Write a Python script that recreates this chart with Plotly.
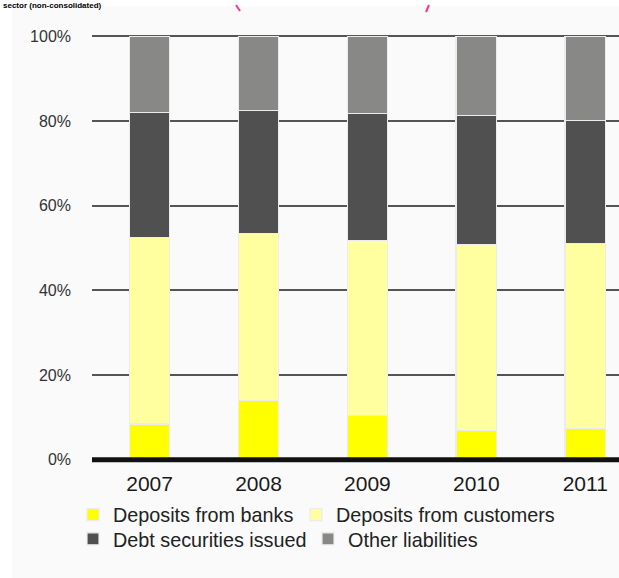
import plotly.graph_objects as go

years = ["2007", "2008", "2009", "2010", "2011"]
banks = [8.4, 14.0, 10.4, 6.9, 7.4]
customers = [44.0, 39.4, 41.3, 43.9, 43.7]
debt = [29.6, 29.0, 30.0, 30.5, 29.0]
other = [18.0, 17.6, 18.3, 18.7, 19.9]
ytick_vals = [0, 20, 40, 60, 80, 100]
ytick_text = ["0%", "20%", "40%", "60%", "80%", "100%"]

series = [
    ("Deposits from banks", banks, "#ffff00", "legend", 178),
    ("Deposits from customers", customers, "#ffffa0", "legend", None),
    ("Debt securities issued", debt, "#505050", "legend2", 190),
    ("Other liabilities", other, "#888886", "legend2", None),
]

W, H = 619, 578
L, R, T, B = 92, 0, 30, 112
pw, ph = W - L - R, H - T - B

def px_x(x):
    return (x - L) / pw

def px_y(y):
    return 1 - (y - T) / ph

fig = go.Figure()
for name, vals, color, lg, lw in series:
    kw = {}
    if lw:
        kw["legendwidth"] = lw
    fig.add_trace(go.Bar(
        x=years, y=vals, name=name, width=0.372,
        marker=dict(color=color, line=dict(color="#ececec", width=1.2)),
        legend=lg, **kw,
    ))

fig.update_layout(
    width=W, height=H,
    margin=dict(l=L, r=R, t=T, b=B),
    barmode="stack",
    paper_bgcolor="white",
    plot_bgcolor="rgba(0,0,0,0)",
    font=dict(family="Liberation Sans, Arial, sans-serif", color="#222"),
    xaxis=dict(
        type="category", range=[-0.529, 4.31],
        showgrid=False, zeroline=False, showline=False,
        tickfont=dict(size=21, color="#1a1a1a"),
        ticks="", ticklabelstandoff=3,
    ),
    yaxis=dict(
        range=[-1.5, 101.5], tickvals=ytick_vals, ticktext=ytick_text,
        showgrid=True, gridcolor="#555555", gridwidth=2,
        zeroline=False, showline=False,
        tickfont=dict(size=16, color="#333"),
        ticks="", ticklabelstandoff=20,
    ),
    legend=dict(
        orientation="h", xref="container", yref="container",
        x=73 / W, y=1 - 514.8 / H, xanchor="left", yanchor="middle",
        font=dict(size=19.8, color="#222"), traceorder="normal",
        bgcolor="rgba(0,0,0,0)",
    ),
    legend2=dict(
        orientation="h", xref="container", yref="container",
        x=73 / W, y=1 - 539 / H, xanchor="left", yanchor="middle",
        font=dict(size=19.8, color="#222"), traceorder="normal",
        bgcolor="rgba(0,0,0,0)",
    ),
    showlegend=True,
)

shapes = [
    # light panel background
    dict(type="rect", xref="paper", yref="paper", x0=px_x(12), x1=1.0,
         y0=px_y(H), y1=px_y(6), fillcolor="#fafafa", line=dict(width=0), layer="below"),
    # thick baseline
    dict(type="line", xref="paper", yref="y", x0=0, x1=1, y0=0, y1=0,
         line=dict(color="#111111", width=5), layer="above"),
    # pink marks at top
    dict(type="line", xref="paper", yref="paper", x0=px_x(236), x1=px_x(240),
         y0=px_y(5), y1=px_y(11), line=dict(color="#ff3399", width=2), layer="above"),
    dict(type="line", xref="paper", yref="paper", x0=px_x(429), x1=px_x(426),
         y0=px_y(5), y1=px_y(12), line=dict(color="#ff3399", width=2), layer="above"),
]
fig.update_layout(shapes=shapes)

# title fragment at the very top (kept fully inside the frame)
fig.add_annotation(
    text="<b>sector (non-consolidated)</b>", xref="paper", yref="paper",
    x=px_x(2), y=px_y(0), xanchor="left", yanchor="top",
    showarrow=False, font=dict(size=8, color="#000"), borderpad=0,
)

fig.write_html("out.html")
